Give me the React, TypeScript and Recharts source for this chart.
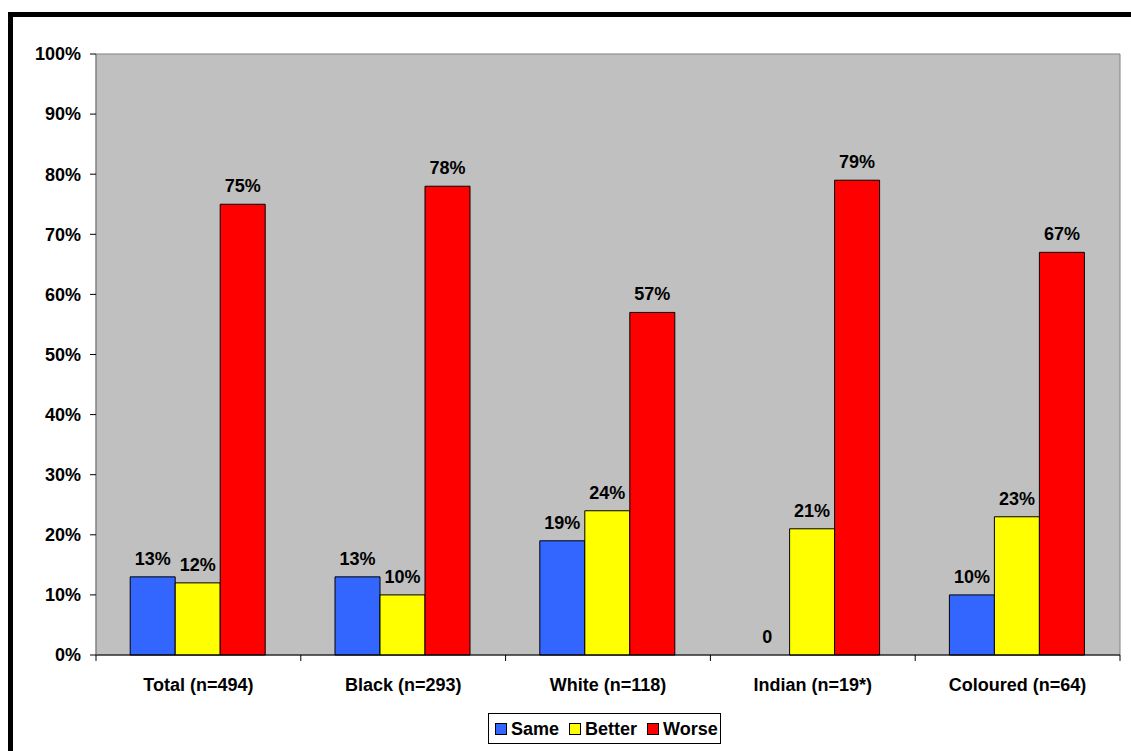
import { BarChart, Bar, XAxis, YAxis, CartesianGrid, Legend, LabelList, ReferenceArea } from 'recharts';

// categories and series values (percent)
const categories = ['Total (n=494)', 'Black (n=293)', 'White (n=118)', 'Indian (n=19*)', 'Coloured (n=64)'];
const sameValues = [13, 13, 19, 0, 10];
const betterValues = [12, 10, 24, 21, 23];
const worseValues = [75, 78, 57, 79, 67];
const yTicks = [0, 10, 20, 30, 40, 50, 60, 70, 80, 90, 100];

const series = [
	{ key: 'same', name: 'Same', color: '#3366FF', values: sameValues },
	{ key: 'better', name: 'Better', color: '#FFFF00', values: betterValues },
	{ key: 'worse', name: 'Worse', color: '#FF0000', values: worseValues },
];

const data = categories.map((name, i) => ({
	name,
	same: sameValues[i],
	better: betterValues[i],
	worse: worseValues[i],
}));

const FONT = '"Liberation Sans", Arial, sans-serif';
const CHART_W = 1131;
const CHART_H = 751;
const Y_AXIS_W = 96;
const RIGHT_MARGIN = 11;
const GAP = 0.167;
const BAND = (CHART_W - Y_AXIS_W - RIGHT_MARGIN) / categories.length;
const BAR_W = (BAND * (1 - 2 * GAP)) / series.length;

const formatPct = (v: any) => (Number(v) === 0 ? '0' : `${v}%`);

const labelText = { fontFamily: FONT, fontWeight: 'bold', fontSize: 18, fill: '#000' } as const;

// value label above each bar
const BarValueLabel = (props: any) => {
	const { x, y, width, value } = props;
	if (x == null || y == null || value == null) return null;
	return (
		<text x={Number(x) + Number(width) / 2} y={Number(y) - 12} textAnchor="middle" {...labelText}>
			{formatPct(value)}
		</text>
	);
};

// x axis tick: category label, boundary tick marks, and labels of zero-height bars
// (recharts skips labels for those)
const XTick = ({ x, y, payload, index }: any) => {
	const last = index === categories.length - 1;
	const left = x - BAND / 2;
	return (
		<g>
			<line x1={left} y1={y} x2={left} y2={y + 6} stroke="#000" />
			{last && <line x1={x + BAND / 2} y1={y} x2={x + BAND / 2} y2={y + 6} stroke="#000" />}
			{series.map((s, k) =>
				s.values[index] === 0 ? (
					<text key={s.key} x={left + BAND * GAP + BAR_W * (k + 0.5)} y={y - 12} textAnchor="middle" {...labelText}>
						{formatPct(0)}
					</text>
				) : null
			)}
			<text x={x} y={y + 36} textAnchor="middle" {...labelText}>
				{payload.value}
			</text>
		</g>
	);
};

const LegendBox = () => (
	<div
		style={{
			display: 'inline-flex',
			alignItems: 'center',
			boxSizing: 'border-box',
			height: 31,
			border: '1px solid #000',
			background: '#fff',
			padding: '0 2px 0 6px',
			fontFamily: FONT,
			fontWeight: 'bold',
			fontSize: 18,
			color: '#000',
			lineHeight: '20px',
		}}
	>
		{series.map((s, i) => (
			<span key={s.key} style={{ display: 'inline-flex', alignItems: 'center', marginLeft: i === 0 ? 0 : 10 }}>
				<span
					style={{
						display: 'inline-block',
						width: 10,
						height: 10,
						background: s.color,
						border: '1px solid #000',
						marginRight: 4,
					}}
				/>
				{s.name}
			</span>
		))}
	</div>
);

export default function App() {
	return (
		<div
			style={{
				position: 'absolute',
				left: 0,
				top: 0,
				width: CHART_W,
				height: CHART_H,
				background: '#fff',
				overflow: 'hidden',
			}}
		>
			{/* frame */}
			<div
				style={{
					position: 'absolute',
					left: 8,
					top: 12,
					right: -20,
					bottom: -20,
					borderTop: '5px solid #000',
					borderLeft: '5px solid #000',
				}}
			/>
			<div style={{ position: 'absolute', left: 0, top: 0 }}>
				<BarChart
					width={CHART_W}
					height={CHART_H}
					data={data}
					margin={{ top: 54, right: RIGHT_MARGIN, bottom: 0, left: 0 }}
					barCategoryGap={`${GAP * 100}%`}
					barGap={0}
				>
					<CartesianGrid horizontal={false} vertical={false} fill="#C0C0C0" />
					<ReferenceArea
						x1={categories[0]}
						x2={categories[categories.length - 1]}
						y1={0}
						y2={100}
						fill="none"
						stroke="#808080"
						strokeWidth={1}
					/>
					<XAxis
						dataKey="name"
						height={96}
						tickSize={0}
						tickMargin={0}
						tickLine={false}
						axisLine={{ stroke: '#000' }}
						tick={<XTick />}
						interval={0}
					/>
					<YAxis
						width={Y_AXIS_W}
						domain={[0, 100]}
						ticks={yTicks}
						tickFormatter={(v) => `${v}%`}
						tickSize={6}
						tickMargin={9}
						axisLine={{ stroke: '#808080' }}
						tickLine={{ stroke: '#000' }}
						tick={{ fontFamily: FONT, fontWeight: 'bold', fontSize: 18, fill: '#000' }}
					/>
					<Legend
						verticalAlign="middle"
						align="center"
						layout="horizontal"
						content={<LegendBox />}
						wrapperStyle={{ top: 713, left: 488, width: 240, height: 31 }}
					/>
					{series.map((s) => (
						<Bar
							key={s.key}
							dataKey={s.key}
							name={s.name}
							fill={s.color}
							stroke="#000"
							strokeWidth={1}
							isAnimationActive={false}
						>
							<LabelList dataKey={s.key} content={<BarValueLabel />} />
						</Bar>
					))}
				</BarChart>
			</div>
		</div>
	);
}
